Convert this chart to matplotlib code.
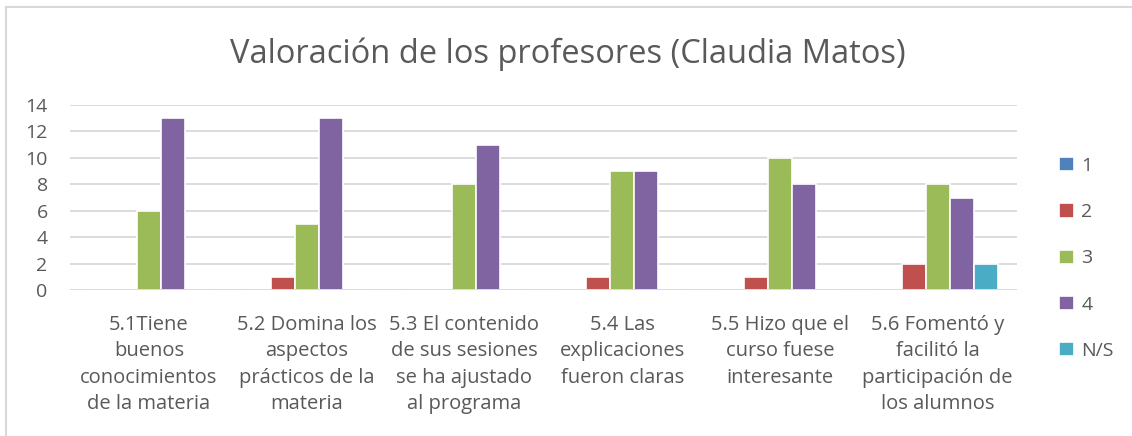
import numpy as np
import matplotlib
matplotlib.use('Agg')
import matplotlib.pyplot as plt
from matplotlib.lines import Line2D

plt.rcParams['font.family'] = ['Open Sans', 'DejaVu Sans']

categorias = ['5.1Tiene\nbuenos\nconocimientos\nde la materia',
              '5.2 Domina los\naspectos\nprácticos de la\nmateria',
              '5.3 El contenido\nde sus sesiones\nse ha ajustado\nal programa',
              '5.4 Las\nexplicaciones\nfueron claras',
              '5.5 Hizo que el\ncurso fuese\ninteresante',
              '5.6 Fomentó y\nfacilitó la\nparticipación de\nlos alumnos']
series = ['1', '2', '3', '4', 'N/S']
v1 = [0, 0, 0, 0, 0, 0]
v2 = [0, 1, 0, 1, 1, 2]
v3 = [6, 5, 8, 9, 10, 8]
v4 = [13, 13, 11, 9, 8, 7]
vns = [0, 0, 0, 0, 0, 2]
colores = ['#4F81BD', '#C0504D', '#9BBB59', '#8064A2', '#4BACC6']

gris = '#595959'
fig = plt.figure(figsize=(11.32, 4.36), dpi=100)
ax = fig.add_axes([0.0618, 0.335, 0.8362, 0.424])

x = np.arange(len(categorias))
ancho = 0.152
handles = []
for i, vals in enumerate([v1, v2, v3, v4, vns]):
    b = ax.bar(x + (i - 2) * ancho, vals, width=ancho, color=colores[i],
               edgecolor='white', linewidth=1.2, zorder=3, label=series[i])
    handles.append(b)

ax.set_xlim(-0.5, len(categorias) - 0.5)
ax.set_ylim(0, 14)
ax.set_yticks(range(0, 15, 2))
ax.yaxis.grid(True, color='#D9D9D9', linewidth=1.3, zorder=0)
for s in ['top', 'right', 'left', 'bottom']:
    ax.spines[s].set_visible(False)
ax.axhline(0, color='#D9D9D9', linewidth=1.3, zorder=4)
ax.tick_params(axis='both', length=0, colors=gris, labelsize=14)
ax.tick_params(axis='y', pad=16)
ax.set_xticks(x)
ax.set_xticklabels(categorias, linespacing=1.42, fontsize=14.5)
ax.tick_params(axis='x', pad=18)

fig.suptitle('Valoración de los profesores (Claudia Matos)', x=0.502, y=0.915,
             fontsize=23.5, color=gris)

leg = fig.legend(handles=handles, loc='upper left', bbox_to_anchor=(0.92, 0.68),
                 frameon=False, fontsize=14, labelspacing=1.45, handlelength=0.75,
                 handleheight=0.75, handletextpad=0.4)
for t in leg.get_texts():
    t.set_color(gris)

fig.add_artist(Line2D([0.005, 0.005], [0, 0.985], transform=fig.transFigure,
                      color='#D9D9D9', linewidth=1.5))
fig.add_artist(Line2D([0.005, 1], [0.985, 0.985], transform=fig.transFigure,
                      color='#D9D9D9', linewidth=1.5))

fig.savefig('out.png', dpi=100, facecolor='white')
